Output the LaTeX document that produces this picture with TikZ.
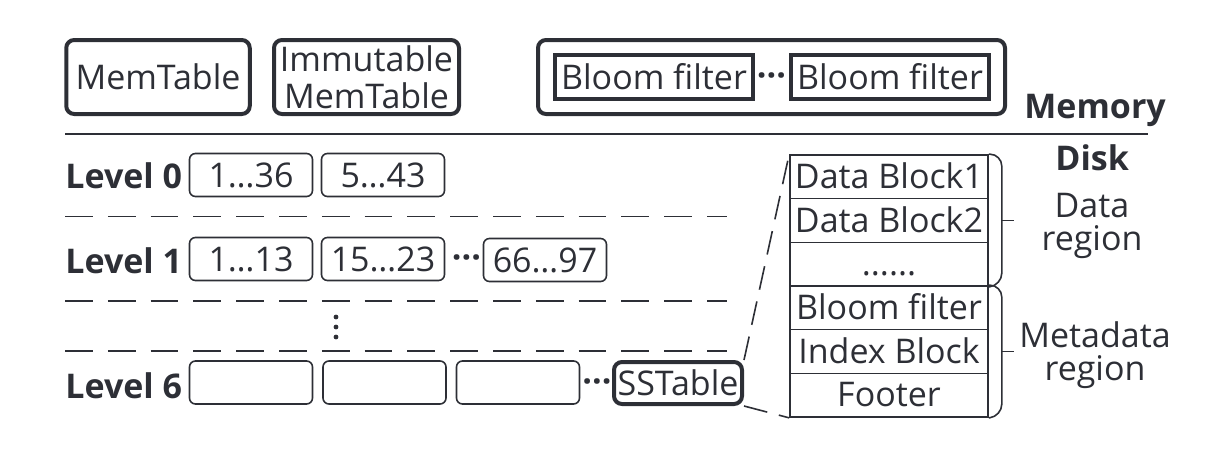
\documentclass[tikz,border=0pt]{standalone}
\usepackage{fontspec}
\setmainfont{Open Sans}
\usepackage{tikz}
\definecolor{ink}{RGB}{45,47,54}

\begin{document}
\begin{tikzpicture}[x=0.5pt,y=-0.5pt,
	every node/.style={text=ink,font=\fontsize{17}{18.5}\selectfont},
	memtbl/.style={shape=rectangle,draw=ink,line width=2pt,rounded corners=4pt,minimum height=37pt,inner sep=0pt},
	bftbl/.style={shape=rectangle,draw=ink,line width=2pt,minimum width=99pt,minimum height=22pt,inner sep=0pt},
	keyrange/.style={shape=rectangle,draw=ink,line width=0.8pt,rounded corners=3pt,minimum width=61.5pt,minimum height=21.5pt,text height=13pt,text depth=1pt,inner sep=0pt},
	block/.style={shape=rectangle,draw=ink,line width=0.8pt,minimum width=99pt,minimum height=21.85pt,text height=13.75pt,text depth=2.25pt,inner sep=0pt},
	lvl/.style={anchor=base west,inner sep=0pt,font=\fontsize{17}{18.5}\selectfont\bfseries},
	moredots/.style={inner sep=0pt,font=\fontsize{17}{18.5}\selectfont\bfseries},
	regionlbl/.style={align=center,font=\fontsize{17}{16.5}\selectfont},
	levelsep/.style={draw=ink,line width=0.9pt,dash pattern=on 13.9pt off 7.5pt},
	link/.style={draw=ink,line width=0.8pt,dash pattern=on 12pt off 6pt},
	brace/.style={draw=ink,line width=0.8pt,rounded corners=6pt}]
	\useasboundingbox (0,0) rectangle (1231,456);

	\node[memtbl,minimum width=91.75pt] (mem) at (158,77) {MemTable};
	\node[memtbl,minimum width=92.5pt,align=center] (imm) at (366.5,77) {Immutable\\MemTable};
	\node[memtbl,minimum width=233.5pt] (bfs) at (771.5,77) {};
	\node[bftbl] (bf1) at (654,77) {Bloom filter};
	\node[moredots] (bfdots) at (771.5,80) {···};
	\node[bftbl] (bf2) at (890,77) {Bloom filter};
	\node[lvl] (memlbl) at (1024,118) {Memory};
	\draw[ink,line width=1pt] (65,134) -- (1148,134);
	\node[lvl] (disklbl) at (1055,170) {Disk};

	\node[lvl] (l0) at (65,188) {Level 0};
	\node[keyrange] (k01) at (251,175) {1…36};
	\node[keyrange] (k02) at (383,175) {5…43};
	\draw[levelsep] (65,216.5) -- (727,216.5);
	\node[lvl] (l1) at (65,273) {Level 1};
	\node[keyrange] (k11) at (251,259) {1…13};
	\node[keyrange] (k12) at (383,259) {15…23};
	\node[moredots] (k1dots) at (466.5,262) {···};
	\node[keyrange] (k13) at (545,260) {66…97};
	\draw[levelsep] (65,301) -- (727,301);
	\foreach \y in {317,327,337}
		\fill[ink] (336,\y) circle (1.2pt);
	\draw[levelsep] (65,351) -- (727,351);
	\node[lvl] (l6) at (65,398) {Level 6};
	\node[keyrange] (k61) at (251,382.5) {};
	\node[keyrange] (k62) at (384.5,382.5) {};
	\node[keyrange] (k63) at (518,382.5) {};
	\node[moredots] (k6dots) at (597,386) {···};
	\node[memtbl,minimum width=64pt,minimum height=21pt] (sst) at (678,383) {SSTable};

	\node[block] (db1) at (889,176.8) {Data Block1};
	\node[block] (db2) at (889,220.5) {Data Block2};
	\node[block] (more) at (889,264.2) {......};
	\node[block] (bfm) at (889,307.8) {Bloom filter};
	\node[block] (ib) at (889,351.5) {Index Block};
	\node[block] (foot) at (889,395.2) {Footer};

	\draw[brace] (db1.north east) -- ++(13,0) -- ++(0,131) -- (more.south east);
	\draw[brace] ([xshift=6.5pt]db2.east) -- ++(12,0);
	\draw[brace] (bfm.north east) -- ++(13,0) -- ++(0,131) -- (foot.south east);
	\draw[brace] ([xshift=6.5pt]ib.east) -- ++(12,0);
	\node[regionlbl] (dreg) at (1092,225.5) {Data\\region};
	\node[regionlbl] (mreg) at (1095,355) {Metadata\\region};

	\path[-] (sst.north east) edge[link] (db1.north west);
	\path[-] (sst.south east) edge[link] (foot.south west);
\end{tikzpicture}
\end{document}
